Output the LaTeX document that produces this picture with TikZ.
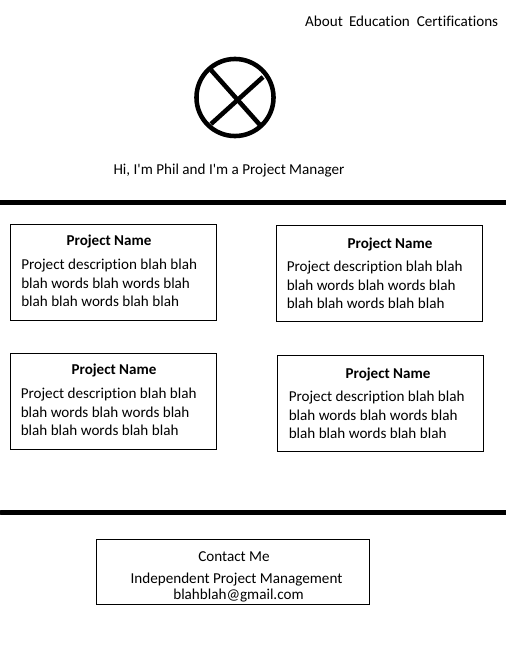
\documentclass[tikz,border=0pt]{standalone}
\usepackage{fontspec}
\setmainfont{Carlito}[Ligatures=NoCommon]
\usetikzlibrary{calc}

\tikzset{
    wire/.style={line width=0.75pt},
    rulebar/.style={line width=3.75pt},
    logoline/.style={line width=3.4pt},
    cardbox/.style={draw, line width=0.75pt, minimum width=154.5pt, minimum height=72pt, inner sep=0pt},
    cardtitle/.style={font=\fontsize{11.3}{13}\selectfont\bfseries, inner sep=0pt},
    cardtext/.style={font=\fontsize{11.35}{13.8}\selectfont, inner sep=0pt, align=left, anchor=north west},
    plaintext/.style={font=\fontsize{11.35}{13}\selectfont, inner sep=0pt},
}

\begin{document}
\begin{tikzpicture}[x=0.75pt, y=-0.75pt]
                \useasboundingbox (0,0) rectangle (506,646);

                % top menu
                \node[plaintext] (about) at (324,21) {About};
                \node[plaintext] (education) at (379.5,21) {Education};
                \node[plaintext] (certs) at (457.5,21) {Certifications};

                % logo
                \coordinate (logo) at (235,97.5);
                \draw[logoline] (logo) circle (28.9pt);
                \draw[logoline] (211,70) -- (260,125);
                \draw[logoline] (263,77) -- (211,124);
                \node[plaintext] (hello) at (229,170.5) {Hi, I\textquotesingle m Phil and I\textquotesingle m a Project Manager};

                % dividers
                \coordinate (ruleAl) at (0,202.5);
                \coordinate (ruleAr) at (506,202.5);
                \coordinate (ruleBl) at (1,512.5);
                \coordinate (ruleBr) at (506,512.5);
                \draw[rulebar] (ruleAl) -- (ruleAr);
                \draw[rulebar, line cap=round] (ruleBl) -- (ruleBr);

                % project cards
                \node[cardbox] (cardA) at (113.5,272.5) {};
                \node[cardbox] (cardB) at (379.5,273.5) {};
                \node[cardbox] (cardC) at (113.5,401.5) {};
                \node[cardbox] (cardD) at (380.5,403.5) {};

                \node[cardtitle] (nameA) at (109,241.5) {Project Name};
                \node[cardtitle] (nameB) at (390,244.5) {Project Name};
                \node[cardtitle] (nameC) at (114,370.5) {Project Name};
                \node[cardtitle] (nameD) at (388,374.5) {Project Name};

                \node[cardtext] (textA) at (21,259) {Project description blah blah\\blah words blah words blah\\blah blah words blah blah};
                \node[cardtext] (textB) at (286.5,261) {Project description blah blah\\blah words blah words blah\\blah blah words blah blah};
                \node[cardtext] (textC) at (20.5,388) {Project description blah blah\\blah words blah words blah\\blah blah words blah blah};
                \node[cardtext] (textD) at (288.5,391) {Project description blah blah\\blah words blah words blah\\blah blah words blah blah};

                % contact
                \node[draw, wire, minimum width=204.75pt, minimum height=48.75pt, inner sep=0pt] (contact) at (233,572) {};
                \node[plaintext] (contactme) at (234,557) {Contact Me};
                \node[plaintext] (company) at (236.5,579.5) {Independent Project Management};
                \node[plaintext] (email) at (238.5,595.5) {blahblah@gmail.com};
            \end{tikzpicture}
\end{document}
